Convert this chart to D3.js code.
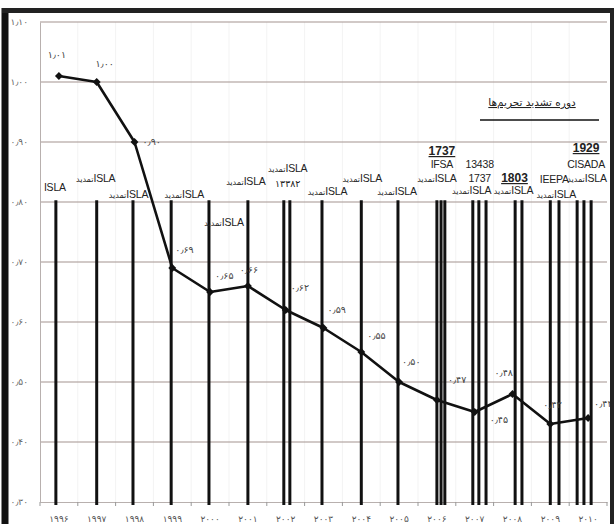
<!DOCTYPE html>
<html><head><meta charset="utf-8">
<script src="https://cdn.jsdelivr.net/npm/d3@7"></script>
<style>
html,body{margin:0;padding:0;background:#fff;}
svg{display:block;}
</style></head>
<body>
<svg id="chart" width="614" height="524"></svg>
<script>
// ---------- DATA ----------
const years = [1996,1997,1998,1999,2000,2001,2002,2003,2004,2005,2006,2007,2008,2009,2010];
const yearLabels = ["۱۹۹۶","۱۹۹۷","۱۹۹۸","۱۹۹۹","۲۰۰۰","۲۰۰۱","۲۰۰۲","۲۰۰۳","۲۰۰۴","۲۰۰۵","۲۰۰۶","۲۰۰۷","۲۰۰۸","۲۰۰۹","۲۰۱۰"];
const values = [1.01,1.00,0.90,0.69,0.65,0.66,0.62,0.59,0.55,0.50,0.47,0.45,0.48,0.43,0.44];
const valueLabels = ["۱٫۰۱","۱٫۰۰","۰٫۹۰","۰٫۶۹","۰٫۶۵","۰٫۶۶","۰٫۶۲","۰٫۵۹","۰٫۵۵","۰٫۵۰","۰٫۴۷","۰٫۴۵","۰٫۴۸","۰٫۴۳","۰٫۴۴"];
const yTicks = [0.3,0.4,0.5,0.6,0.7,0.8,0.9,1.0,1.1];
const yTickLabels = ["۰٫۳۰","۰٫۴۰","۰٫۵۰","۰٫۶۰","۰٫۷۰","۰٫۸۰","۰٫۹۰","۱٫۰۰","۱٫۱۰"];
// sanction events (decimal year)
const eventTimes = [1995.92,1997.0,1997.96,1998.97,1999.97,2001.0,2001.95,2002.11,2002.96,2004.0,2004.97,
  2006.0,2006.11,2006.21,2006.95,2007.11,2007.3,2008.07,2008.25,2009.0,2009.23,2009.71,2009.89,2010.08];
// event annotation texts (kind: "isla" = تمدید+ISLA, "plain", "bold" underlined)
const eventTexts = [
  {year:1996, kind:"plain", text:"ISLA"},
  {year:1997, kind:"isla", text:"ISLA"},
  {year:1998, kind:"isla", text:"ISLA"},
  {year:1999, kind:"isla", text:"ISLA"},
  {year:2000, kind:"isla", text:"ISLA"},
  {year:2001, kind:"isla", text:"ISLA"},
  {year:2002, kind:"isla", text:"ISLA"},
  {year:2002, kind:"fa", text:"۱۳۳۸۲"},
  {year:2003, kind:"isla", text:"ISLA"},
  {year:2004, kind:"isla", text:"ISLA"},
  {year:2005, kind:"isla", text:"ISLA"},
  {year:2006, kind:"bold", text:"1737"},
  {year:2006, kind:"plain", text:"IFSA"},
  {year:2006, kind:"isla", text:"ISLA"},
  {year:2007, kind:"plain", text:"13438"},
  {year:2007, kind:"plain", text:"1737"},
  {year:2007, kind:"isla", text:"ISLA"},
  {year:2008, kind:"bold", text:"1803"},
  {year:2008, kind:"isla", text:"ISLA"},
  {year:2009, kind:"plain", text:"IEEPA"},
  {year:2009, kind:"isla", text:"ISLA"},
  {year:2010, kind:"bold", text:"1929"},
  {year:2010, kind:"plain", text:"CISADA"},
  {year:2010, kind:"isla", text:"ISLA"}
];
const renewWord = "تمدید";
const periodTitle = "دوره تشدید تحریم‌ها";

// ---------- LAYOUT (positions only) ----------
const eventTextPos = [ // [dx from year centre, baseline y]
  [-4,191],[-1,182],[-6,198],[12,198],[14,226],[-2,185],[2,172],[2,187],[4,195],[1,182],[-2,195],
  [5,155],[5,168],[0,182],[5,168],[5,182],[-3,194],[2,182],[1,194],[4,183],[6,198],[-2,152],[-2,168],[-1,182]
];
const valueLabelPos = [ // [dx, dy, anchor]
  [-2,-18,"middle"],[8,-15,"middle"],[8,3,"start"],[3,-15,"start"],[5,-13,"start"],[1,-13,"middle"],
  [5,-19,"start"],[4,-15,"start"],[6,-13,"start"],[3,-17,"start"],[11,-17,"start"],[15,11,"start"],
  [-18,-18,"start"],[-7,-16,"start"],[6,-11,"start"]
];

// ---------- CHART ----------
const svg = d3.select("#chart");
const pLeft = 40, pRight = 607, pTop = 22, pBottom = 502;

const x = d3.scaleBand().domain(years).range([pLeft, pRight]).paddingInner(0).paddingOuter(0);
const bw = x.bandwidth();
const xt = d3.scaleLinear().domain([years[0], years[years.length-1]])
  .range([x(years[0]) + bw/2, x(years[years.length-1]) + bw/2]);
const y = d3.scaleLinear().domain([0.3, 1.1]).range([pBottom, pTop]);

// faint vertical grid
svg.append("g").selectAll("line").data(years.slice(1)).join("line")
  .attr("x1", d => x(d)).attr("x2", d => x(d))
  .attr("y1", pTop).attr("y2", pBottom)
  .attr("stroke", "#f3f3f3").attr("stroke-width", 1);

// horizontal grid
svg.append("g").selectAll("line").data(yTicks.slice(1)).join("line")
  .attr("x1", pLeft).attr("x2", pRight)
  .attr("y1", d => y(d)).attr("y2", d => y(d))
  .attr("stroke", "#a39490").attr("stroke-width", 1.2);

// y axis
const yAxis = d3.axisLeft(y).tickValues(yTicks).tickSize(0).tickPadding(12)
  .tickFormat((d,i) => yTickLabels[i]);
const gy = svg.append("g").attr("transform", `translate(${pLeft},0)`).call(yAxis);
gy.select(".domain").attr("stroke", "#b8b0ae");
gy.selectAll("text").attr("font-family", "DejaVu Sans, sans-serif").attr("font-size", 9).attr("fill", "#666");

// x axis
const xAxis = d3.axisBottom(x).tickSize(0).tickPadding(14).tickFormat((d,i) => yearLabels[i]);
const gx = svg.append("g").attr("transform", `translate(0,${pBottom})`).call(xAxis);
gx.select(".domain").attr("stroke", "#b8b0ae");
gx.selectAll("text").attr("font-family", "DejaVu Sans, sans-serif").attr("font-size", 9).attr("fill", "#555");
// boundary ticks
svg.append("g").selectAll("line").data(years.concat([null])).join("line")
  .attr("x1", (d,i) => pLeft + i*bw).attr("x2", (d,i) => pLeft + i*bw)
  .attr("y1", pBottom).attr("y2", pBottom + 4)
  .attr("stroke", "#999").attr("stroke-width", 1);

// event lines
svg.append("g").selectAll("line").data(eventTimes).join("line")
  .attr("x1", d => xt(d)).attr("x2", d => xt(d))
  .attr("y1", y(0.803)).attr("y2", y(0.295))
  .attr("stroke", "#111").attr("stroke-width", 3);

// event texts
const et = svg.append("g");
eventTexts.forEach((e, i) => {
  const [dx, by] = eventTextPos[i];
  const cx = xt(e.year) + dx;
  const t = et.append("text").attr("x", cx).attr("y", by)
    .attr("text-anchor", "middle").attr("fill", "#222")
    .attr("font-family", "'Liberation Sans Narrow', 'Liberation Sans', Arial, sans-serif");
  if (e.kind === "isla") {
    t.attr("direction", "ltr");
    t.append("tspan").attr("font-size", 8).attr("font-family", "DejaVu Sans, sans-serif").text(renewWord);
    t.append("tspan").attr("font-size", 10.5).attr("letter-spacing", -0.2).text(e.text);
  } else if (e.kind === "bold") {
    t.attr("font-size", 12).attr("font-weight", "bold").attr("text-decoration", "underline").text(e.text);
  } else if (e.kind === "fa") {
    t.attr("font-size", 9.5).attr("font-family", "DejaVu Sans, sans-serif").text(e.text);
  } else {
    t.attr("font-size", 10.5).attr("letter-spacing", -0.2).text(e.text);
  }
});

// line series
const line = d3.line().x((d,i) => x(years[i]) + bw/2).y(d => y(d));
svg.append("path").datum(values).attr("d", line)
  .attr("fill", "none").attr("stroke", "#111").attr("stroke-width", 2.6).attr("stroke-linejoin", "round");
svg.append("g").selectAll("path").data(values).join("path")
  .attr("d", d3.symbol(d3.symbolDiamond2, 40))
  .attr("transform", (d,i) => `translate(${x(years[i]) + bw/2},${y(d)})`)
  .attr("fill", "#111");

// value labels
svg.append("g").selectAll("text").data(valueLabels).join("text")
  .attr("x", (d,i) => x(years[i]) + bw/2 + valueLabelPos[i][0])
  .attr("y", (d,i) => y(values[i]) + valueLabelPos[i][1])
  .attr("text-anchor", (d,i) => valueLabelPos[i][2])
  .attr("font-family", "DejaVu Sans, sans-serif").attr("font-size", 9.5).attr("fill", "#444")
  .text(d => d);

// period title
svg.append("text").attr("x", 532).attr("y", 106).attr("text-anchor", "middle")
  .attr("font-family", "DejaVu Sans, sans-serif").attr("font-size", 10.5).attr("fill", "#222")
  .attr("text-decoration", "underline").text(periodTitle);
svg.append("line").attr("x1", 480).attr("x2", 599).attr("y1", 120).attr("y2", 120)
  .attr("stroke", "#111").attr("stroke-width", 1.6);

// frame
svg.append("line").attr("x1", 5).attr("x2", 5).attr("y1", 8).attr("y2", 524).attr("stroke", "#111").attr("stroke-width", 7);
svg.append("line").attr("x1", 2).attr("x2", 614).attr("y1", 10.5).attr("y2", 10.5).attr("stroke", "#222").attr("stroke-width", 5);
svg.append("line").attr("x1", 612).attr("x2", 612).attr("y1", 8).attr("y2", 524).attr("stroke", "#222").attr("stroke-width", 4);
</script>
</body></html>
